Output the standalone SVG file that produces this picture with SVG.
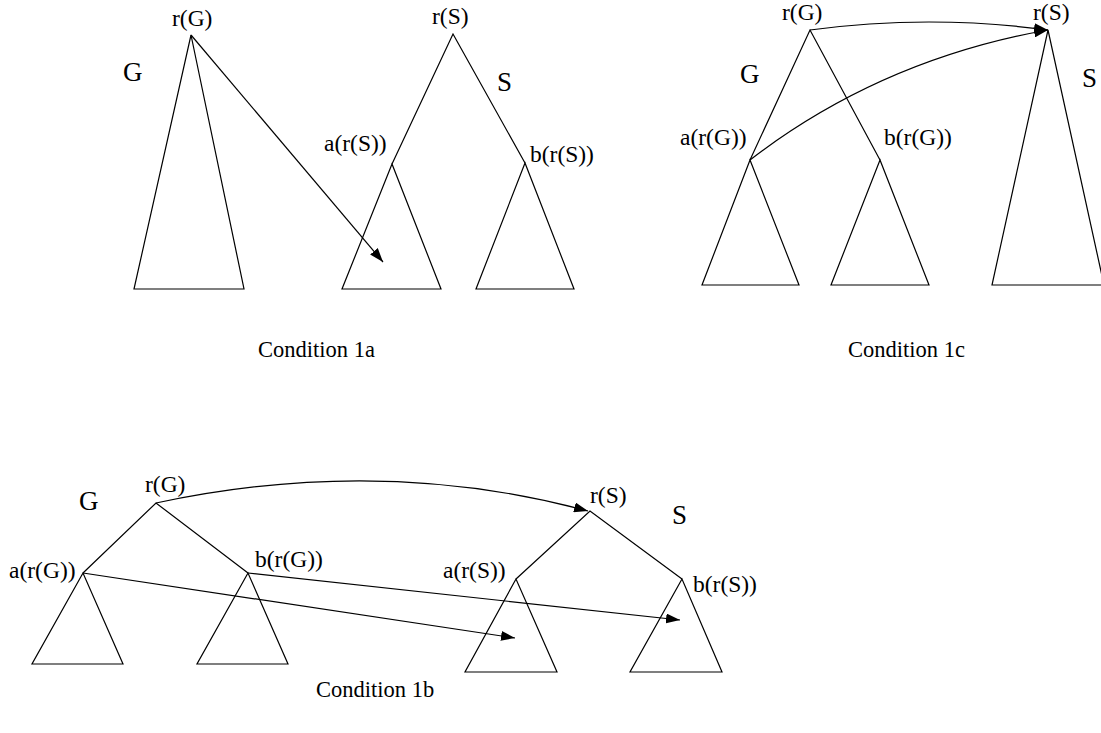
<svg xmlns="http://www.w3.org/2000/svg" width="1101" height="733" viewBox="0 0 1101 733">
<style>
.ln{fill:none;stroke:#000;stroke-width:1.2}
.ar{fill:none;stroke:#000;stroke-width:1.2;marker-end:url(#ah)}
.lb{font-family:"Liberation Serif","Times New Roman",serif;font-size:23.5px;fill:#000}
.big{font-family:"Liberation Serif","Times New Roman",serif;font-size:27px;fill:#000}
.cap{font-family:"Liberation Serif","Times New Roman",serif;font-size:22.5px;fill:#000}
</style>
<defs>
<marker id="ah" markerUnits="userSpaceOnUse" markerWidth="14" markerHeight="10" viewBox="0 0 14 10" refX="14" refY="5" orient="auto">
<path d="M0,0 L14,5 L0,10 Z" fill="#000"/>
</marker>
</defs>
<rect width="1101" height="733" fill="#fff"/>

<!-- Condition 1a -->
<g id="c1a-G">
<polygon class="ln" points="191,35 134,289 244,289"/>
<text class="lb" x="172" y="26">r(G)</text>
<text class="big" x="123" y="81">G</text>
</g>
<g id="c1a-S">
<polyline class="ln" points="392,164 453,34 525,163"/>
<polygon class="ln" points="392,164 342,289 441,289"/>
<polygon class="ln" points="525,163 476,289 574,289"/>
<text class="lb" x="432" y="24">r(S)</text>
<text class="big" x="497" y="91">S</text>
<text class="lb" x="324" y="151">a(r(S))</text>
<text class="lb" x="530" y="162">b(r(S))</text>
</g>
<text id="cap1a" class="cap" x="258" y="357">Condition 1a</text>

<!-- Condition 1c -->
<g id="c1c-G">
<polyline class="ln" points="750,160 810,30 880,160"/>
<polygon class="ln" points="750,160 702,285 799,285"/>
<polygon class="ln" points="880,160 831,285 929,285"/>
<text class="lb" x="782" y="20">r(G)</text>
<text class="big" x="740" y="83">G</text>
<text class="lb" x="680" y="145">a(r(G))</text>
<text class="lb" x="884" y="145">b(r(G))</text>
</g>
<g id="c1c-S">
<polygon class="ln" points="1048,30 992,285 1104,285"/>
<text class="lb" x="1033" y="20">r(S)</text>
<text class="big" x="1082" y="87">S</text>
</g>
<text id="cap1c" class="cap" x="848" y="357">Condition 1c</text>

<!-- Condition 1b -->
<g id="c1b-G">
<polyline class="ln" points="83,573 156,503 248,573"/>
<polygon class="ln" points="83,573 32,664 123,664"/>
<polygon class="ln" points="248,573 197,664 288,664"/>
<text class="lb" x="145" y="492">r(G)</text>
<text class="big" x="79" y="510">G</text>
<text class="lb" x="9" y="578">a(r(G))</text>
<text class="lb" x="255" y="567">b(r(G))</text>
</g>
<g id="c1b-S">
<polyline class="ln" points="516,579 590,511 682,579"/>
<polygon class="ln" points="516,579 465,672 557,672"/>
<polygon class="ln" points="682,579 630,672 722,672"/>
<text class="lb" x="590" y="503">r(S)</text>
<text class="big" x="672" y="524">S</text>
<text class="lb" x="443" y="578">a(r(S))</text>
<text class="lb" x="693" y="592">b(r(S))</text>
</g>
<text id="cap1b" class="cap" x="316" y="697">Condition 1b</text>

<g id="connectors">
<line class="ar" x1="191" y1="35" x2="383" y2="262"/>
<path class="ar" d="M810,30 Q929,14 1048,30"/>
<path class="ar" d="M750,160 Q880,60 1048,30"/>
<path class="ar" d="M156,503 Q380,455 588,511"/>
<line class="ar" x1="83" y1="573" x2="515" y2="638"/>
<line class="ar" x1="248" y1="573" x2="680" y2="620"/>
</g>
</svg>
